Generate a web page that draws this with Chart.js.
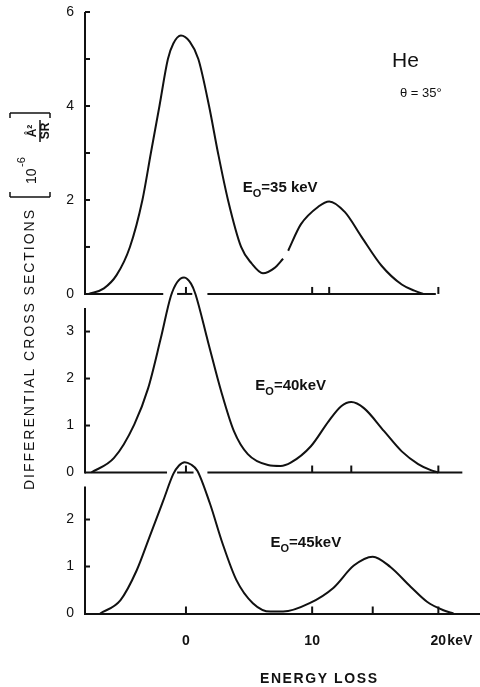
<!DOCTYPE html>
<html>
<head>
<meta charset="utf-8">
<script src="https://cdn.jsdelivr.net/npm/chart.js@4.4.1/dist/chart.umd.min.js"></script>
<style>
  html, body { margin: 0; padding: 0; background: #fff; }
  #wrap { width: 480px; height: 687px; position: relative; }
</style>
</head>
<body>
<div id="wrap"><canvas id="chart"></canvas></div>
<script>
// He, theta = 35 deg -- energy loss (keV) vs differential cross section (1e-6 A^2/sr)
// values
const loss35 = [-7.7, -6.5, -5.5, -4.44, -3.45, -2.78, -2.1, -1.43, -1.0, -0.4, 0.3, 0.98, 1.83, 2.54, 3.33, 4.37, 5.2, 6.1, 7.0, 7.7, 7.9, 8.1, 9.1, 10.5, 11.35, 12.6, 13.9, 15.5, 17.1, 18.1, 18.8];
const sigma35 = [0, 0.12, 0.4, 1, 2, 3, 4, 5, 5.33, 5.5, 5.37, 5, 4, 3, 2, 1, 0.65, 0.44, 0.55, 0.75, null, 0.92, 1.48, 1.86, 1.97, 1.74, 1.22, 0.6, 0.2, 0.07, 0];

const loss40 = [-7.5, -5.7, -4.1, -3.0, -2.0, -1.2, -0.7, -0.15, 0.4, 0.75, 1.75, 2.8, 3.8, 4.9, 6.5, 7.5, 8.3, 9.9, 11.3, 12.3, 13.1, 14.1, 15.7, 17.1, 18.4, 19.4, 20.0];
const sigma40 = [0, 0.31, 1.02, 1.79, 2.85, 3.75, 4.05, 4.15, 4.02, 3.8, 2.78, 1.72, 0.88, 0.39, 0.16, 0.14, 0.21, 0.56, 1.09, 1.41, 1.5, 1.37, 0.88, 0.45, 0.18, 0.05, 0];

const loss45 = [-6.8, -5.2, -3.9, -2.9, -1.8, -1.0, -0.55, -0.1, 0.4, 0.9, 1.9, 2.9, 4.0, 5.3, 6.7, 7.7, 9.8, 11.7, 13.3, 14.8, 16.2, 17.8, 19.1, 20.4, 21.2];
const sigma45 = [0, 0.28, 0.92, 1.62, 2.4, 2.97, 3.15, 3.22, 3.17, 3.04, 2.34, 1.49, 0.71, 0.22, 0.04, 0.04, 0.22, 0.55, 1.02, 1.21, 0.99, 0.57, 0.25, 0.07, 0];

const beamEnergies = ['35 keV', '40keV', '45keV'];
const peakLoss = [11.35, 13.1, 14.8];   // marker ticks under the inelastic peaks
const lossTicks = [0, 10, 20];
const panelMax = [6, 3.8, 3.0];          // scale range of each panel
const axisTop = [6, 3.5, 2.7];           // where the drawn left axis stops

const panels = ['y1', 'y2', 'y3'];
const ink = '#111';
const FONT = '"Liberation Sans", Arial, sans-serif';

function pts(xs, ys) {
  return xs.map((x, i) => ({ x: x, y: ys[i] }));
}

function yScale(i) {
  return {
    type: 'linear',
    position: 'left',
    stack: 'panels',
    stackWeight: panelMax[i],
    weight: 3 - i,
    min: 0,
    max: panelMax[i],
    afterBuildTicks: s => {
      const t = [];
      for (let v = 0; v <= axisTop[i]; v++) t.push({ value: v });
      s.ticks = t;
    },
    ticks: {
      callback: v => (i === 0 && v % 2) ? '' : String(v),
      padding: 3,
      color: ink,
      font: { family: FONT, size: 14 }
    },
    grid: { display: false },
    border: { display: false },
    afterFit: s => { s.width = 85; s.paddingTop = 0; s.paddingBottom = 0; }
  };
}

// hand-drawn style frame: broken axes, inward ticks, peak markers, labels
function seg(ctx, x1, y1, x2, y2) {
  ctx.beginPath(); ctx.moveTo(x1, y1); ctx.lineTo(x2, y2); ctx.stroke();
}

function spaced(ctx, str, x, y, width) {
  const ws = [...str].map(c => ctx.measureText(c).width);
  const sum = ws.reduce((a, b) => a + b, 0);
  const gap = (width - sum) / (str.length - 1);
  let cx = x;
  [...str].forEach((c, k) => { ctx.fillText(c, cx, y); cx += ws[k] + gap; });
}

const gaps = [
  [[-8, -1.8], [-0.7, 0.5], [1.7, 19.8]],
  [[-8, -1.5], [-0.7, 0.6], [1.7, 21.9]]
];
const labelAt = [[4.5, 2.18], [5.5, 1.75], [6.7, 1.41]];

const frame = {
  id: 'frame',
  afterDatasetsDraw(chart) {
    const { ctx } = chart;
    const x = chart.scales.x;
    ctx.save();
    ctx.strokeStyle = ink;
    ctx.fillStyle = ink;
    ctx.lineWidth = 2;
    ctx.lineCap = 'butt';
    panels.forEach((id, i) => {
      const y = chart.scales[id];
      const y0 = y.getPixelForValue(0);
      const left = x.left;
      seg(ctx, left, y0 + 1, left, y.getPixelForValue(axisTop[i]));
      for (let v = 1; v <= axisTop[i]; v++) {
        const py = y.getPixelForValue(v);
        seg(ctx, left, py, left + 5, py);
      }
      if (i < 2) {
        gaps[i].forEach(g => seg(ctx, x.getPixelForValue(g[0]), y0, x.getPixelForValue(g[1]), y0));
      }
      lossTicks.concat([peakLoss[i]]).forEach(v => {
        const px = x.getPixelForValue(v);
        seg(ctx, px, y0, px, y0 - 7);
      });
      // beam energy label
      let lx = x.getPixelForValue(labelAt[i][0]);
      const ly = y.getPixelForValue(labelAt[i][1]);
      ctx.textAlign = 'left';
      ctx.textBaseline = 'alphabetic';
      ctx.font = 'bold 15px ' + FONT;
      ctx.fillText('E', lx, ly);
      lx += ctx.measureText('E').width;
      ctx.font = 'bold 11px ' + FONT;
      ctx.fillText('O', lx, ly + 5);
      lx += ctx.measureText('O').width;
      ctx.font = 'bold 15px ' + FONT;
      ctx.fillText('=' + beamEnergies[i], lx, ly);
    });

    // "keV" after the 20 tick label
    ctx.font = 'bold 14px ' + FONT;
    ctx.textBaseline = 'alphabetic';
    ctx.textAlign = 'left';
    ctx.fillText('keV', x.getPixelForValue(20) + 9, 645);

    // x title
    ctx.font = 'bold 14px ' + FONT;
    spaced(ctx, 'ENERGY LOSS', 260, 683, 117);

    // He / theta
    ctx.font = '21px ' + FONT;
    ctx.fillText('He', 392, 67);
    ctx.font = '13px ' + FONT;
    ctx.fillText('\u03b8 = 35\u00b0', 400, 97);

    // rotated y title
    ctx.translate(30, 490);
    ctx.rotate(-Math.PI / 2);
    ctx.textBaseline = 'middle';
    ctx.font = '14px ' + FONT;
    spaced(ctx, 'DIFFERENTIAL CROSS SECTIONS', 0, 0, 280);
    ctx.lineWidth = 1.5;
    // brackets
    seg(ctx, 293, -20, 293, 20); seg(ctx, 293, -20, 298, -20); seg(ctx, 293, 20, 298, 20);
    seg(ctx, 377, -20, 377, 20); seg(ctx, 377, -20, 372, -20); seg(ctx, 377, 20, 372, 20);
    ctx.font = '14px ' + FONT;
    ctx.fillText('10', 306, 2);
    ctx.font = '11px ' + FONT;
    ctx.fillText('-6', 323, -8);
    ctx.font = 'bold 12px ' + FONT;
    ctx.textAlign = 'center';
    ctx.fillText('\u00c5\u00b2', 359, 3);
    seg(ctx, 348, 10, 370, 10);
    ctx.fillText('SR', 359, 16);
    ctx.restore();
  }
};

const line = (xs, ys, axis) => ({
  data: pts(xs, ys),
  yAxisID: axis,
  borderColor: ink,
  borderWidth: 2,
  pointRadius: 0,
  fill: false,
  spanGaps: false,
  cubicInterpolationMode: 'monotone',
  clip: false
});

new Chart(document.getElementById('chart'), {
  type: 'line',
  data: {
    datasets: [
      line(loss35, sigma35, 'y1'),
      line(loss40, sigma40, 'y2'),
      line(loss45, sigma45, 'y3')
    ]
  },
  options: {
    responsive: true,
    maintainAspectRatio: false,
    animation: false,
    layout: { padding: { top: 12, left: 0, right: 0, bottom: 0 } },
    plugins: { legend: { display: false }, tooltip: { enabled: false } },
    scales: {
      x: {
        type: 'linear',
        min: -8,
        max: 23.3,
        afterBuildTicks: s => { s.ticks = lossTicks.map(v => ({ value: v })); },
        ticks: { color: ink, padding: 11, maxRotation: 0, font: { family: FONT, size: 14, weight: 'bold' } },
        grid: { display: false },
        border: { display: true, color: ink, width: 2 },
        afterFit: s => { s.height = 73.5; }
      },
      y1: yScale(0),
      y2: yScale(1),
      y3: yScale(2)
    }
  },
  plugins: [frame]
});
</script>
</body>
</html>
